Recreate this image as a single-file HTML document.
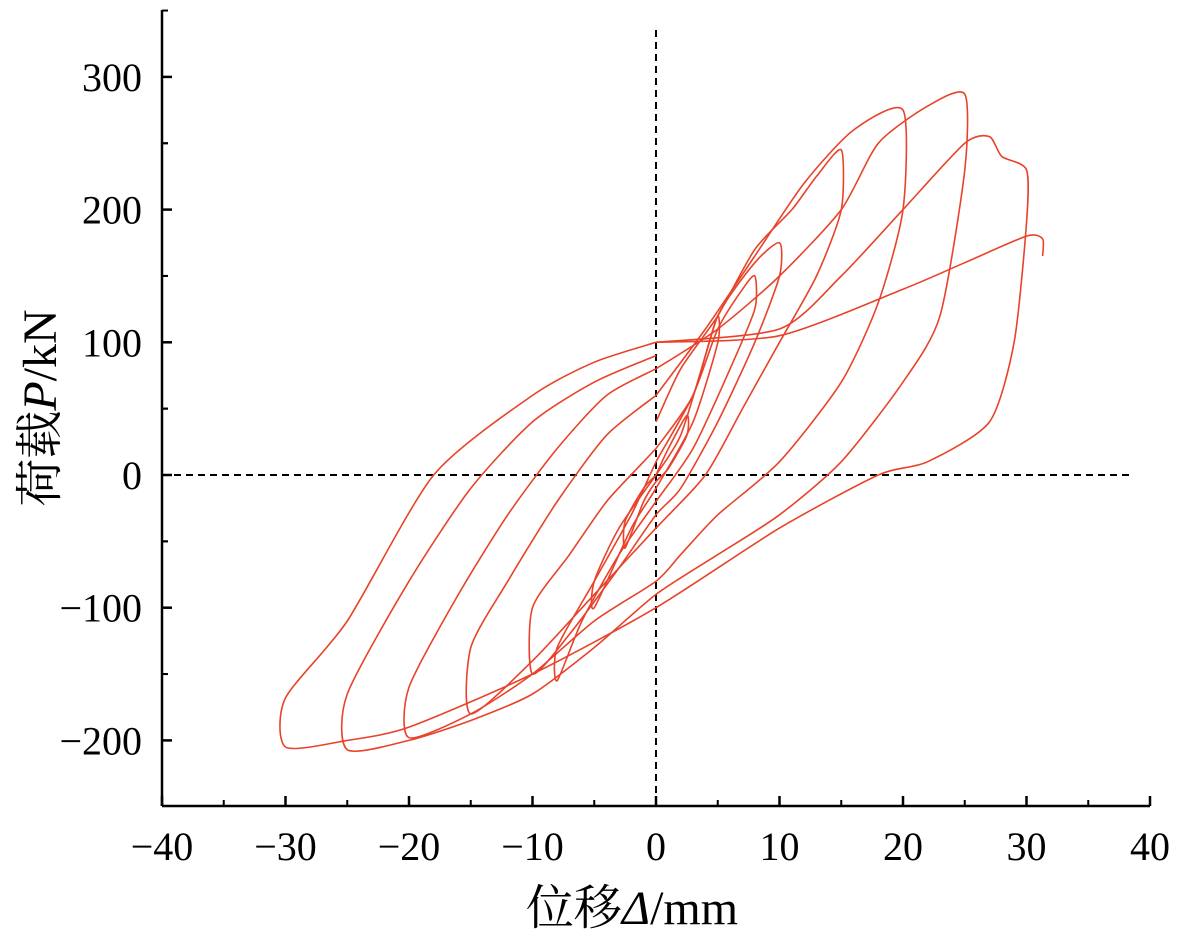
<!DOCTYPE html>
<html><head><meta charset="utf-8"><style>
html,body{margin:0;padding:0;background:#fff;}
svg{display:block;font-family:"Liberation Serif","Noto Serif CJK SC",serif;}
</style></head><body>
<svg id="chart" width="1181" height="936" viewBox="0 0 1181 936">
<g id="axes"></g>
<g id="curves"></g>
<text x="632" y="924" font-size="48" text-anchor="middle">位移<tspan font-style="italic">Δ</tspan>/mm</text>
<text transform="translate(56,408) rotate(-90)" font-size="48" text-anchor="middle">荷载<tspan font-style="italic">P</tspan>/kN</text>
</svg>
<script>
const xTicks=[-40,-30,-20,-10,0,10,20,30,40];
const yTicks=[-200,-100,0,100,200,300];
const loop1X=[0,1,2.5,2.5,1,0,-1,-2.5,-2.5,-1,0];
const loop1Y=[0,20,45,30,5,-5,-20,-55,-35,-10,0];
const loop2X=[0,2,4,5,5,3,0,-2,-5,-5,-3,0];
const loop2Y=[0,30,90,120,100,40,-10,-40,-100,-80,-40,0];
const loop3X=[0,3,5,7,8,8,6,3,0,-3,-6,-8,-8,-5,-2,0];
const loop3Y=[10,60,110,140,150,125,80,20,-20,-60,-110,-155,-130,-80,-30,10];
const loop4X=[0,3,5,8,10,10,8,5,2,0,-3,-7,-10,-10,-7,-4,-1,0];
const loop4Y=[20,60,120,160,175,150,100,40,-10,-30,-70,-120,-150,-100,-60,-20,10,20];
const loop5X=[0,2,5,8,11,13,15,15,13,10,7,4,0,-5,-10,-15,-15,-12,-8,-4,0];
const loop5Y=[40,80,120,170,200,225,245,200,150,100,50,0,-40,-90,-140,-180,-130,-80,-20,30,60];
const loop6X=[0,4,8,12,16,20,20,18,15,10,5,2,0,-5,-10,-15,-20,-20,-16,-12,-8,-4,0];
const loop6Y=[60,110,165,220,260,275,200,130,70,10,-30,-60,-80,-110,-150,-180,-198,-160,-90,-30,20,60,80];
const loop7X=[0,5,10,15,18,22,25,25,23,20,15,10,5,0,-5,-10,-15,-20,-25,-25,-20,-15,-10,-5,0];
const loop7Y=[80,110,150,200,250,278,287,230,120,70,10,-30,-60,-90,-130,-165,-185,-200,-207,-165,-80,-10,40,70,90];
const loop8X=[0,10,15,20,25,27,28,30,30,29,27,22,18,10,0,-10,-20,-25,-30,-30,-25,-18,-10,-5,0];
const loop8Y=[100,110,150,200,250,255,240,230,190,100,40,10,0,-40,-100,-150,-190,-200,-205,-168,-110,0,60,85,100];
const loop9X=[0,10,20,25,30,31.3,31.3];
const loop9Y=[100,105,140,160,180,178,165];
const loopsX=[loop1X,loop2X,loop3X,loop4X,loop5X,loop6X,loop7X,loop8X,loop9X];
const loopsY=[loop1Y,loop2Y,loop3Y,loop4Y,loop5Y,loop6Y,loop7Y,loop8Y,loop9Y];

const X0=162,X1=1150,Y0=806,Y1=10;
function sx(v){return 656+v*12.35;}
function sy(v){return 475-v*1.327;}
const NS="http://www.w3.org/2000/svg";
const axes=document.getElementById('axes');
function mk(tag,attrs,parent){const e=document.createElementNS(NS,tag);for(const k in attrs)e.setAttribute(k,attrs[k]);parent.appendChild(e);return e;}

let l=mk('line',{x1:X0,y1:Y1,x2:X0,y2:Y0,stroke:'#000','stroke-width':2.5},axes);


l=mk('line',{x1:X0,y1:Y0,x2:X1,y2:Y0,stroke:'#000','stroke-width':2.5},axes);


l=mk('line',{x1:sx(0),y1:30,x2:sx(0),y2:Y0,stroke:'#000','stroke-width':2,'stroke-dasharray':'7,5'},axes);


l=mk('line',{x1:X0,y1:sy(0),x2:1130,y2:sy(0),stroke:'#000','stroke-width':2,'stroke-dasharray':'7,5'},axes);



xTicks.forEach((v,i)=>{
  const x=sx(v);
  const t=mk('line',{x1:x,y1:Y0,x2:x,y2:Y0-10,stroke:'#000','stroke-width':2.5},axes);
  
  
  if(i<xTicks.length-1){const m=mk('line',{x1:sx(v+5),y1:Y0,x2:sx(v+5),y2:Y0-6,stroke:'#000','stroke-width':2},axes);
  
  }
  const tx=mk('text',{x:x,y:860,'font-size':40,'text-anchor':'middle'},axes);
  tx.textContent=v<0?'\u2212'+(-v):String(v);
  
  
});
yTicks.forEach(v=>{
  const y=sy(v);
  const t=mk('line',{x1:X0,y1:y,x2:X0+10,y2:y,stroke:'#000','stroke-width':2.5},axes);
  
  
  [-50,50].forEach(d=>{const yy=sy(v+d); if(yy<Y0&&yy>Y1){const m=mk('line',{x1:X0,y1:yy,x2:X0+6,y2:yy,stroke:'#000','stroke-width':2},axes);
  
  }});
  const tx=mk('text',{x:142,y:y+14,'font-size':40,'text-anchor':'end'},axes);
  tx.textContent=v<0?'\u2212'+(-v):String(v);
  
  
});

function smoothPath(P){
  let d='M'+P[0][0].toFixed(1)+','+P[0][1].toFixed(1);
  for(let i=0;i<P.length-1;i++){
    const p0=P[Math.max(i-1,0)],p1=P[i],p2=P[i+1],p3=P[Math.min(i+2,P.length-1)];
    const k=0.12;
    const c1=[p1[0]+(p2[0]-p0[0])*k,p1[1]+(p2[1]-p0[1])*k];
    const c2=[p2[0]-(p3[0]-p1[0])*k,p2[1]-(p3[1]-p1[1])*k];
    d+=' C'+c1[0].toFixed(1)+','+c1[1].toFixed(1)+' '+c2[0].toFixed(1)+','+c2[1].toFixed(1)+' '+p2[0].toFixed(1)+','+p2[1].toFixed(1);
  }
  return d;
}
const curves=document.getElementById('curves');
loopsX.forEach((xs,i)=>{
  const ys=loopsY[i];
  const P=xs.map((x,j)=>[sx(x),sy(ys[j])]);
  const p=mk('path',{d:smoothPath(P),fill:'none',stroke:'#e8432a','stroke-width':1.6,'stroke-linejoin':'round'},curves);
  
  
});
</script>
</body></html>
